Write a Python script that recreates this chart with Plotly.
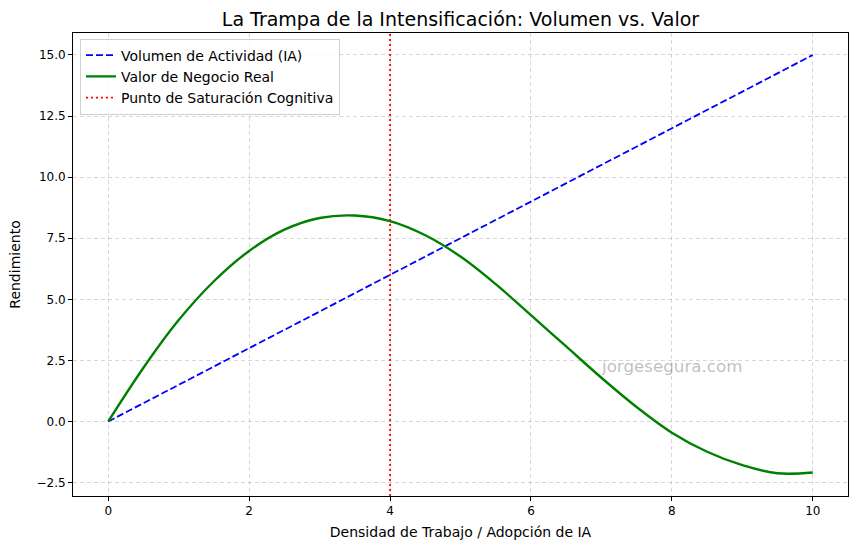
import plotly.graph_objects as go

# ---- data ----
density = [0, 0.5, 1, 1.5, 2, 2.5, 3, 3.5, 4, 4.5, 5, 5.5, 6, 6.5, 7, 7.5, 8, 8.5, 9, 9.5, 10]
activity_volume = [0, 0.75, 1.5, 2.25, 3, 3.75, 4.5, 5.25, 6, 6.75, 7.5, 8.25, 9, 9.75,
                   10.5, 11.25, 12, 12.75, 13.5, 14.25, 15]
business_value = [0, 2.2, 4.15, 5.74, 6.98, 7.85, 8.33, 8.43, 8.2, 7.62, 6.75, 5.62, 4.35,
                  3.07, 1.79, 0.59, -0.46, -1.24, -1.79, -2.12, -2.09]
saturation_x = 4
x_ticks = [0, 2, 4, 6, 8, 10]
y_ticks = [-2.5, 0.0, 2.5, 5.0, 7.5, 10.0, 12.5, 15.0]

FONT = "DejaVu Sans"

fig = go.Figure()
fig.add_trace(go.Scatter(
    x=density, y=activity_volume, mode="lines", name="Volumen de Actividad (IA)",
    line=dict(color="blue", width=1.8, dash="7px,3px")))
fig.add_trace(go.Scatter(
    x=density, y=business_value, mode="lines", name="Valor de Negocio Real",
    line=dict(color="green", width=2.4, shape="spline", smoothing=1.0)))
fig.add_trace(go.Scatter(
    x=[None], y=[None], mode="lines", name="Punto de Saturación Cognitiva",
    line=dict(color="red", width=1.8, dash="2px,3px")))
fig.add_vline(x=saturation_x, line=dict(color="red", width=1.8, dash="2px,3px"), layer="above")

fig.add_annotation(x=6.96, y=2.27, xref="x", yref="y", text="jorgesegura.com",
                   showarrow=False, xanchor="left", yanchor="middle",
                   font=dict(family=FONT, size=16.7, color="rgba(128,128,128,0.5)"))

axis_common = dict(showline=True, linecolor="black", linewidth=1, mirror=True,
                   ticks="outside", ticklen=4, tickcolor="black",
                   showgrid=True, gridcolor="rgba(176,176,176,0.5)", griddash="4px,3px",
                   gridwidth=0.8, zeroline=False,
                   tickfont=dict(family=FONT, size=12, color="black"),
                   title_font=dict(family=FONT, size=14, color="black"))

fig.update_layout(
    width=857, height=550,
    margin=dict(l=73, r=9, t=33, b=54),
    paper_bgcolor="white", plot_bgcolor="white",
    title=dict(text="La Trampa de la Intensificación: Volumen vs. Valor",
               x=0.5373, xanchor="center",
               y=1 - 19 / 550, yanchor="middle",
               font=dict(family=FONT, size=19, color="black")),
    xaxis=dict(range=[-0.5, 10.5], tickvals=x_ticks, ticktext=[str(v) for v in x_ticks],
               title=dict(text="Densidad de Trabajo / Adopción de IA", standoff=9),
               **axis_common),
    yaxis=dict(range=[-3.05, 15.9], tickvals=y_ticks, tickformat=".1f",
               title=dict(text="Rendimiento", standoff=12),
               **axis_common),
    legend=dict(x=0.009, y=0.988, xanchor="left", yanchor="top",
                bgcolor="rgba(255,255,255,0.8)", bordercolor="#d0d0d0", borderwidth=1,
                font=dict(family=FONT, size=14, color="black"),
                itemwidth=30, tracegroupgap=0),
    showlegend=True,
)

fig.write_html("out.html")
